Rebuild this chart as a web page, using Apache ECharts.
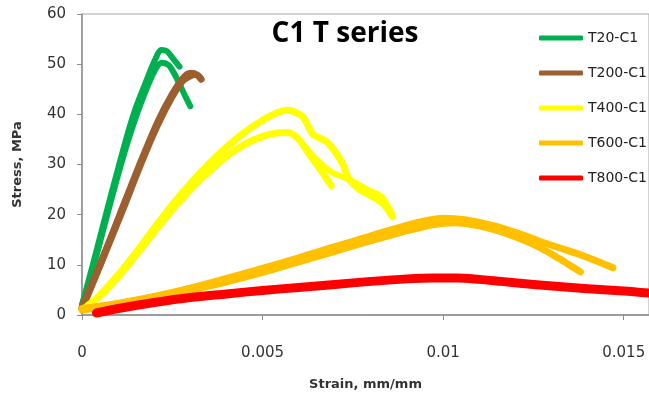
<!DOCTYPE html>
<html>
<head>
<meta charset="utf-8">
<script src="https://cdn.jsdelivr.net/npm/echarts@6/dist/echarts.min.js"></script>
<style>
  html, body { margin: 0; padding: 0; background: #fff; }
  #chart { width: 649px; height: 400px; }
</style>
</head>
<body>
<div id="chart"></div>
<script>
/* 数据: [strain, stress] */
const t20a = [[0,2],[0.0003,10],[0.00066,20],[0.00103,30],[0.0013,37],[0.0015,41.5],[0.0018,47],[0.002,50.5],[0.0022,52.8],[0.00235,52.6],[0.0025,51.3],[0.0027,49.5]];
const t20b = [[0,2],[0.00033,10],[0.0007,20],[0.00108,30],[0.0014,37.5],[0.0017,43.5],[0.002,48.5],[0.0022,50.3],[0.0024,49.8],[0.0026,47.5],[0.0028,44.5],[0.003,41.6]];
const t200a = [[0,1.2],[0.0005,10],[0.00105,20],[0.0016,30],[0.0021,38.5],[0.0025,44],[0.0028,47.2],[0.003,48.2],[0.0032,47.8],[0.0033,47]];
const t200b = [[0,1.5],[0.00052,10.3],[0.0011,20.5],[0.00165,30.5],[0.0021,38],[0.0025,43.6],[0.0028,46.8],[0.0031,48]];
const t400a = [[0.0001,1.5],[0.0005,4],[0.001,8],[0.0015,12.5],[0.002,17.3],[0.0025,22],[0.003,26.2],[0.0035,30],[0.004,33.4],[0.0045,36.4],[0.005,38.8],[0.0054,40.3],[0.0057,40.8],[0.0061,39.6],[0.0064,36],[0.0068,34.4],[0.0072,30.4],[0.0074,27],[0.0077,25],[0.0083,22.4],[0.0086,19.6]];
const t400b = [[0.0001,1.5],[0.0005,3.8],[0.001,7.6],[0.0015,12],[0.002,16.6],[0.0025,21],[0.003,25],[0.0035,28.5],[0.004,31.6],[0.0045,34],[0.005,35.6],[0.0054,36.3],[0.0057,36.4],[0.006,35],[0.0063,32],[0.0066,29],[0.0069,25.8]];
const t400c = [[0.006,35],[0.0065,31],[0.0069,28.5],[0.0074,27],[0.0079,25],[0.0083,23.5],[0.0086,20]];
const t600a = [[0,1.3],[0.001,2.3],[0.002,3.7],[0.003,5.3],[0.004,7],[0.005,8.9],[0.006,11],[0.007,13.2],[0.008,15.4],[0.009,17.4],[0.0096,18.6],[0.0102,19],[0.0108,18.6],[0.0116,17.2],[0.0122,16],[0.0127,14.6],[0.0133,13.2],[0.0138,12],[0.0143,10.6],[0.0147,9.4]];
const t600b = [[0,1],[0.001,2],[0.002,3.3],[0.003,4.9],[0.004,6.6],[0.005,8.5],[0.006,10.6],[0.007,12.7],[0.008,14.8],[0.009,16.8],[0.0097,18],[0.0103,18.4],[0.011,17.8],[0.0116,16.6],[0.0122,15],[0.0127,13.4],[0.0132,11.3],[0.0136,9.5],[0.0138,8.6]];
const t600c = [[0.0003,1.5],[0.002,3.6],[0.004,7.3],[0.006,11.4],[0.008,15.8],[0.0094,18.6],[0.01,19.3],[0.0106,19],[0.0115,17.6],[0.0122,15.8],[0.0127,14]];
const t800a = [[0.0004,0.4],[0.001,1.3],[0.002,2.5],[0.003,3.5],[0.004,4.2],[0.005,4.9],[0.006,5.5],[0.007,6.1],[0.008,6.7],[0.009,7.2],[0.0097,7.4],[0.0104,7.4],[0.011,7.1],[0.0116,6.7],[0.0125,6.1],[0.0139,5.3],[0.015,4.8],[0.0158,4.3]];

const names = ['T20-C1', 'T200-C1', 'T400-C1', 'T600-C1', 'T800-C1'];
const colors = ['#00b050', '#9c5f2f', '#ffff00', '#ffc000', '#ff0000'];
const yTicks = [0, 60, 10];        // min, max, interval
const xTicks = [0, 0.0157, 0.005];

const chart = echarts.init(document.getElementById('chart'));

function line(idx, data, width) {
	return {
		name: names[idx],
		type: 'line',
		data: data,
		smooth: 0.3,
		symbol: 'none',
		color: colors[idx],
		lineStyle: { width: width, color: colors[idx], cap: 'round', join: 'round' }
	};
}

chart.setOption({
	animation: false,
	title: {
		text: 'C1 T series',
		left: 340,
		top: 15,
		textAlign: 'center',
		textStyle: { fontFamily: 'Open Sans', fontWeight: 'bold', fontSize: 28, color: '#000' }
	},
	legend: {
		orient: 'vertical',
		left: 534,
		top: 26,
		itemWidth: 44,
		itemHeight: 5,
		itemGap: 21,
		icon: 'roundRect',
		data: names,
		textStyle: { fontFamily: 'DejaVu Sans', fontSize: 14, lineHeight: 14, color: '#222' }
	},
	grid: {
		left: 82, right: 0, top: 14, bottom: 85,
		show: true, borderColor: '#a6a6a6', borderWidth: 1
	},
	xAxis: {
		type: 'value',
		min: xTicks[0], max: xTicks[1], interval: xTicks[2],
		name: 'Strain, mm/mm',
		nameLocation: 'middle',
		nameGap: 63,
		nameTextStyle: { fontFamily: 'DejaVu Sans', fontWeight: 'bold', fontSize: 13, color: '#333' },
		splitLine: { show: false },
		axisLine: { lineStyle: { color: '#8c8c8c', width: 1.5 } },
		axisTick: { inside: false, length: 5, lineStyle: { color: '#8c8c8c' } },
		axisLabel: {
			margin: 31, showMaxLabel: false,
			fontFamily: 'DejaVu Sans', fontSize: 15, color: '#333',
			formatter: function (v) { return String(parseFloat(v.toFixed(4))); }
		}
	},
	yAxis: {
		type: 'value',
		min: yTicks[0], max: yTicks[1], interval: yTicks[2],
		name: 'Stress, MPa',
		nameLocation: 'middle',
		nameGap: 58,
		nameTextStyle: { fontFamily: 'DejaVu Sans', fontWeight: 'bold', fontSize: 13, color: '#333' },
		splitLine: { show: false },
		axisLine: { show: true, lineStyle: { color: '#8c8c8c', width: 1.5 } },
		axisTick: { show: true, length: 5, lineStyle: { color: '#8c8c8c' } },
		axisLabel: { margin: 16, fontFamily: 'DejaVu Sans', fontSize: 15, color: '#333' }
	},
	series: [
		line(0, t20a, 6), line(0, t20b, 6),
		line(1, t200a, 7), line(1, t200b, 7),
		line(2, t400a, 7), line(2, t400b, 7), line(2, t400c, 6),
		line(3, t600a, 7), line(3, t600b, 7), line(3, t600c, 7),
		line(4, t800a, 9)
	]
});
</script>
</body>
</html>
